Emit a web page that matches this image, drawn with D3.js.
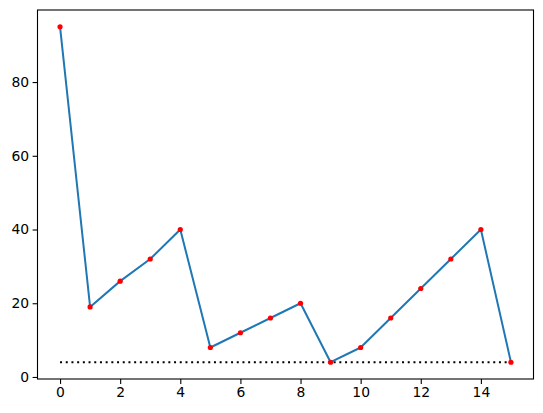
<!DOCTYPE html>
<html>
<head>
<meta charset="utf-8">
<script src="https://cdn.jsdelivr.net/npm/d3@7"></script>
<style>
  body { margin: 0; background: #fff; }
  text { font-family: "DejaVu Sans", sans-serif; font-size: 13.9px; fill: #000; }
</style>
</head>
<body>
<div id="chart"></div>
<script>
// values
var xs = [0, 1, 2, 3, 4, 5, 6, 7, 8, 9, 10, 11, 12, 13, 14, 15];
var ys = [95, 19, 26, 32, 40, 8, 12, 16, 20, 4, 8, 16, 24, 32, 40, 4];
var baseline = 4;
var xTicks = [0, 2, 4, 6, 8, 10, 12, 14];
var yTicks = [0, 20, 40, 60, 80];

var W = 543, H = 413;
var padL = 37.5, padR = 533.5, padT = 10, padB = 379;

var svg = d3.select("#chart").append("svg")
    .attr("width", W).attr("height", H);

var x = d3.scaleLinear().domain([-0.75, 15.75]).range([padL, padR]);
var y = d3.scaleLinear().domain([-0.55, 99.55]).range([padB, padT]);

/* axes */
var xAxis = d3.axisBottom(x).tickValues(xTicks).tickSize(4.9).tickPadding(3.5).tickFormat(d3.format("d"));
var yAxis = d3.axisLeft(y).tickValues(yTicks).tickSize(4.9).tickPadding(3.5).tickFormat(d3.format("d"));

var gx = svg.append("g").attr("transform", "translate(0," + padB + ")").call(xAxis);
var gy = svg.append("g").attr("transform", "translate(" + padL + ",0)").call(yAxis);
[gx, gy].forEach(function(g) {
    g.select(".domain").remove();
    g.selectAll("line").attr("stroke", "#000").attr("stroke-width", 1.1);
    g.selectAll("text").attr("font-family", "DejaVu Sans").attr("font-size", "13.9px").attr("fill", "#000");
});

/* dotted baseline */
svg.append("line")
    .attr("x1", x(xs[0])).attr("x2", x(xs[xs.length - 1]))
    .attr("y1", y(baseline)).attr("y2", y(baseline))
    .attr("stroke", "#000").attr("stroke-width", 2)
    .attr("stroke-dasharray", "2,3.7");

/* line */
var line = d3.line().x(function(d, i) { return x(xs[i]); }).y(function(d) { return y(d); });
svg.append("path").datum(ys)
    .attr("d", line)
    .attr("fill", "none")
    .attr("stroke", "#1f77b4")
    .attr("stroke-width", 2)
    .attr("stroke-linejoin", "round").attr("stroke-linecap", "square");

svg.selectAll("circle.pt")
    .data(ys)
    .enter().append("circle")
    .attr("class", "pt")
    .attr("cx", function(d, i) { return x(xs[i]); })
    .attr("cy", function(d) { return y(d); })
    .attr("r", 2.6)
    .style("fill", "red");

/* frame */
svg.append("rect")
    .attr("x", padL).attr("y", padT)
    .attr("width", padR - padL).attr("height", padB - padT)
    .attr("fill", "none").attr("stroke", "#000").attr("stroke-width", 1.1);
</script>
</body>
</html>
